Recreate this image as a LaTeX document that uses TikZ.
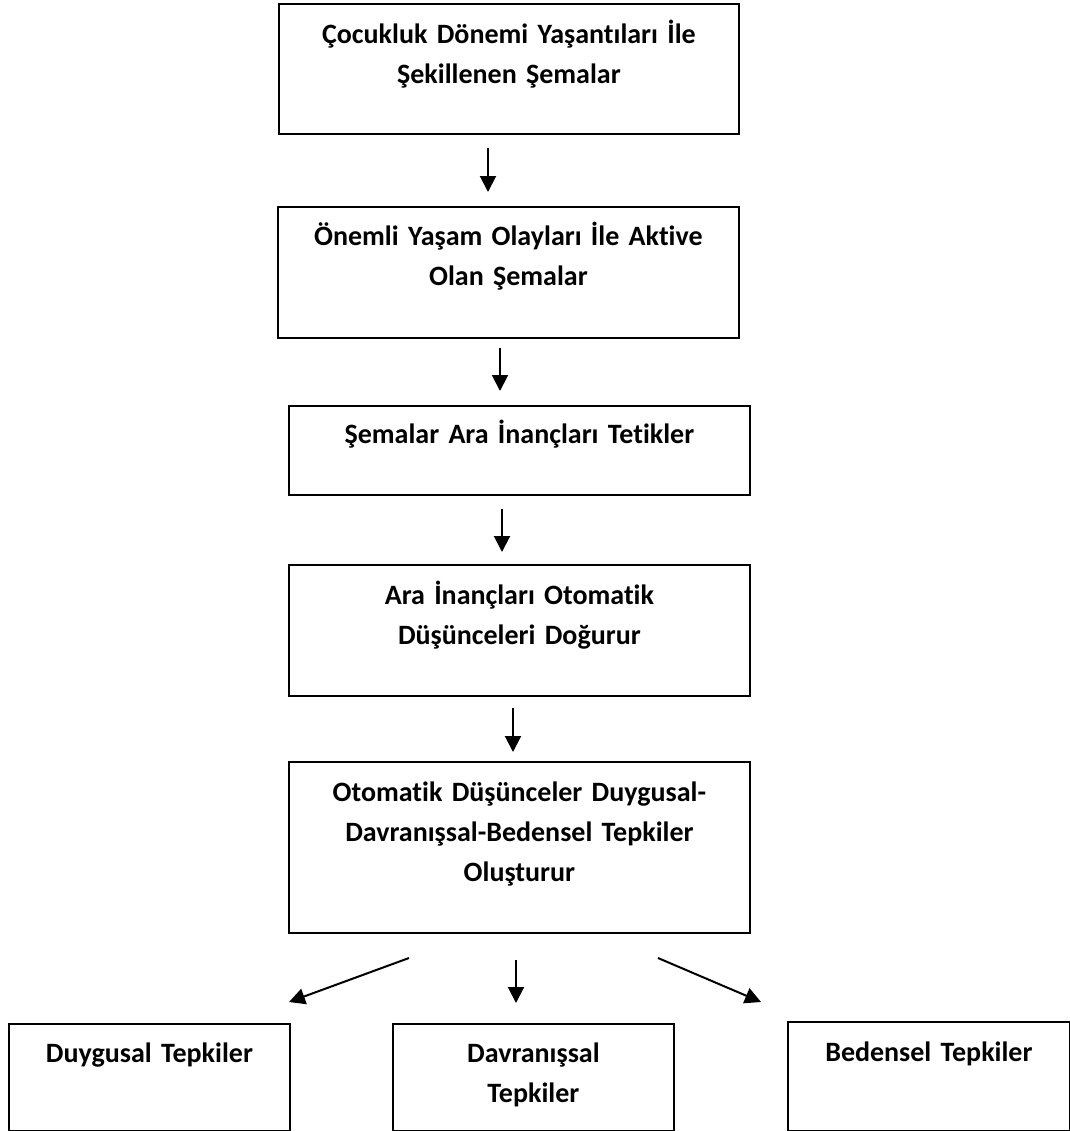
\documentclass[tikz,border=0pt]{standalone}
\usepackage{fontspec}
\setmainfont{Carlito}[Ligatures={NoCommon,NoContextual},RawFeature={-liga;-clig;-calt;-dlig}]
\usetikzlibrary{arrows.meta,calc}
\tikzset{
  stepbox/.style={
    draw=black,
    line width=0.9pt,
    inner sep=0pt,
    anchor=north west
  },
  boxlabel/.style={
    font=\fontsize{14}{20}\selectfont\bfseries,
    align=center,
    text width=220pt,
    inner sep=0pt,
    anchor=base
  },
  flowarrow/.style={
    draw=black,
    line width=1pt,
    -{Triangle[length=8pt,width=8pt]}
  }
}

\begin{document}
\begin{tikzpicture}[x=0.5pt,y=-0.5pt]

  % Page frame of the scanned figure (pixel units, y pointing down).
  \useasboundingbox (0,0) rectangle (1070,1131);

  % Main chain of boxes, top to bottom.
  \node[stepbox,minimum width=230pt,minimum height=65pt]   (b1) at (278,3)   {};
  \node[stepbox,minimum width=230.5pt,minimum height=65.5pt] (b2) at (277,206) {};
  \node[stepbox,minimum width=230.5pt,minimum height=44.5pt] (b3) at (288,405) {};
  \node[stepbox,minimum width=230.5pt,minimum height=65.5pt] (b4) at (288,564) {};
  \node[stepbox,minimum width=230.5pt,minimum height=85.5pt] (b5) at (288,761) {};

  % The three reaction boxes in the bottom row.
  \node[stepbox,minimum width=140.5pt,minimum height=53.5pt] (r1) at (8,1023)   {};
  \node[stepbox,minimum width=140.5pt,minimum height=53.5pt] (r2) at (392,1023) {};
  \node[stepbox,minimum width=141pt,minimum height=54.5pt]   (r3) at (787,1021) {};

  % Texts sit near the top edge of each box.
  \node[boxlabel] (t1) at ($(b1.north)+(0,40)$) {Çocukluk Dönemi Yaşantıları İle\\Şekillenen Şemalar};
  \node[boxlabel] (t2) at ($(b2.north)+(0,39)$) {Önemli Yaşam Olayları İle Aktive\\Olan Şemalar};
  \node[boxlabel] (t3) at ($(b3.north)+(0,38)$) {Şemalar Ara İnançları Tetikler};
  \node[boxlabel] (t4) at ($(b4.north)+(0,40)$) {Ara İnançları Otomatik\\Düşünceleri Doğurur};
  \node[boxlabel] (t5) at ($(b5.north)+(0,40)$) {Otomatik Düşünceler Duygusal-\\Davranışsal-Bedensel Tepkiler\\Oluşturur};
  \node[boxlabel] (u1) at ($(r1.north)+(0,39)$) {Duygusal Tepkiler};
  \node[boxlabel] (u2) at ($(r2.north)+(0,39)$) {Davranışsal\\Tepkiler};
  \node[boxlabel] (u3) at ($(r3.north)+(0,40)$) {Bedensel Tepkiler};

  % Free-standing arrows between the boxes.
  \coordinate (a1) at (488,148);  \coordinate (a1e) at (488,192);
  \coordinate (a2) at (500,348);  \coordinate (a2e) at (500,391);
  \coordinate (a3) at (502,509);  \coordinate (a3e) at (502,552);
  \coordinate (a4) at (513,708);  \coordinate (a4e) at (513,752);
  \draw[flowarrow] (a1) -- (a1e);
  \draw[flowarrow] (a2) -- (a2e);
  \draw[flowarrow] (a3) -- (a3e);
  \draw[flowarrow] (a4) -- (a4e);

  % Fan-out towards the three reactions.
  \coordinate (f1) at (409,958);  \coordinate (f1e) at (289,1002);
  \coordinate (f2) at (516,960);  \coordinate (f2e) at (516,1003);
  \coordinate (f3) at (658,958);  \coordinate (f3e) at (761,1002);
  \draw[flowarrow] (f1) -- (f1e);
  \draw[flowarrow] (f2) -- (f2e);
  \draw[flowarrow] (f3) -- (f3e);

\end{tikzpicture}
\end{document}
